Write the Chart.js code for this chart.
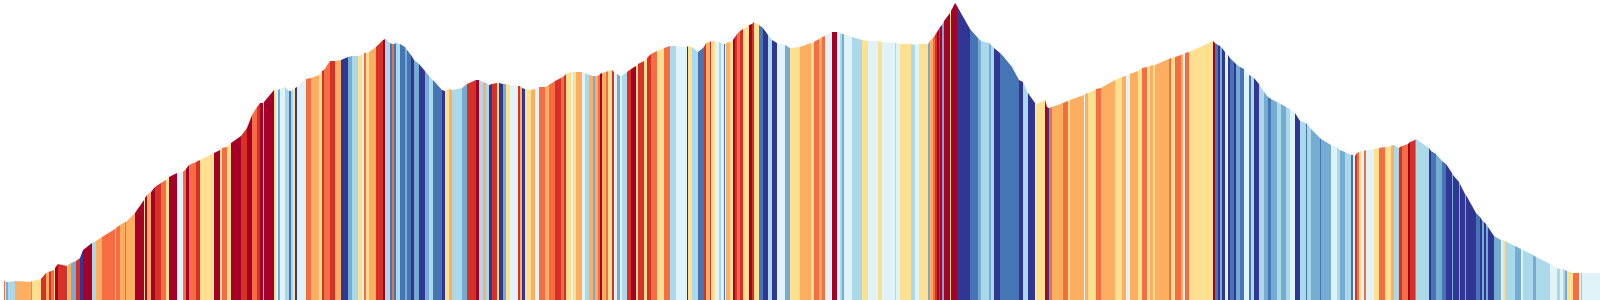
<!DOCTYPE html>
<html>
<head>
<meta charset="utf-8">
<script src="https://cdn.jsdelivr.net/npm/chart.js@4.4.0/dist/chart.umd.min.js"></script>
<style>
  body { margin: 0; background: #fff; }
  .graph-container { width: 1600px; height: 300px; position: relative; }
</style>
</head>
<body>
<div class="graph-container"><canvas id="profile"></canvas></div>
<script>
// stripe colours (RdYlBu, warm = climbing, cool = descending)
const palette = ['#a50026', '#d73027', '#f46d43', '#fdae61', '#fee090',
                 '#e0f3f8', '#abd9e9', '#74add1', '#4575b4', '#313695'];

// distance along the route at each stripe edge
const distance = [
  4,5,6,8,15,31,32,41,46,49,51,54,55,58,67,68,71,76,80,83,92,96,102,115,116,120,125,126,135,144,145,147,151,155,161,166,169,177,183,186,189,196,
  200,214,220,222,227,231,241,247,252,257,260,263,264,274,276,278,280,285,289,291,293,295,297,306,311,319,322,324,330,335,341,348,352,358,362,364,366,369,376,383,385,390,392,394,396,
  400,405,407,411,414,419,425,429,433,442,445,449,452,462,467,476,479,483,486,489,492,497,499,503,506,510,518,520,522,525,531,535,539,545,549,555,561,564,566,571,573,576,582,585,589,593,595,598,
  600,602,606,608,612,614,617,620,622,627,631,636,638,644,647,651,657,664,670,676,687,688,692,698,704,706,710,711,715,719,721,724,725,726,730,733,735,737,740,743,749,752,754,759,763,768,772,777,785,790,
  800,811,814,819,822,825,832,837,840,842,844,852,862,868,878,882,895,896,900,911,915,919,928,930,933,935,937,939,940,942,944,950,951,955,957,970,978,981,989,991,994,
  1000,1003,1012,1019,1023,1028,1035,1036,1045,1047,1049,1052,1063,1068,1070,1084,1085,1088,1096,1101,1115,1122,1126,1130,1138,1142,1147,1150,1153,1155,1169,1171,1175,1181,1183,1185,1189,
  1200,1213,1215,1218,1220,1222,1225,1228,1230,1234,1236,1240,1244,1249,1251,1254,1259,1264,1268,1271,1277,1281,1286,1290,1295,1300,1306,1307,1311,1320,1321,1331,1337,1340,1345,1351,1353,1355,1357,1359,1361,1364,1366,1374,1379,1385,1391,1394,1399,
  1400,1402,1408,1410,1415,1416,1429,1431,1436,1442,1446,1452,1453,1459,1460,1465,1466,1476,1480,1482,1484,1486,1488,1494,1501,1503,1505,1515,1521,1523,1533,1536,1550,1557,1560,1563,1565,1567,1573,1579,1581,1582,1600
];

// elevation at each stripe edge
const elevation = [
  19,19,18,18,19,18,19,21,27,28,29,30,32,36,34,35,37,39,42,50,57,59,63,71,72,75,78,78,87,100,102,105,108,113,117,120,123,127,128,131,135,138,
  140,147,150,152,153,157,164,172,185,193,197,197,198,210,211,210,211,213,209,209,210,212,213,221,222,225,229,230,239,239,240,243,244,244,245,247,247,248,253,260,261,257,256,256,257,
  256,253,250,245,240,236,229,224,220,210,209,211,210,212,216,220,220,218,217,215,216,217,217,216,216,215,214,214,212,211,210,211,213,213,215,219,222,224,226,228,228,228,228,227,225,224,224,224,
  226,227,228,229,230,228,226,224,224,228,231,234,236,239,242,246,249,252,254,254,253,254,253,248,253,257,258,259,259,258,257,256,256,257,258,260,263,266,269,271,275,276,278,275,272,265,260,257,255,252,
  253,257,258,261,263,264,268,268,267,266,266,263,260,259,259,258,257,257,256,256,255,256,256,259,262,265,268,271,273,275,279,287,289,297,294,271,262,259,257,255,252,
  247,244,233,220,218,207,197,195,200,193,192,193,197,199,200,205,206,207,211,212,220,223,224,226,229,232,233,234,235,235,241,242,243,245,246,247,248,
  253,259,257,255,254,252,248,245,242,238,236,233,231,225,224,222,216,208,203,201,198,196,193,191,187,179,177,176,171,162,161,155,153,150,148,145,145,144,147,148,149,149,150,151,152,153,154,155,152,
  153,154,156,158,160,161,152,149,146,139,136,127,125,118,116,106,105,87,83,80,78,76,73,64,60,60,59,54,51,50,45,43,36,32,31,31,30,29,27,27,27,27,27
];

// colour band of each stripe (index into palette), one per gap between edges
const band = [
  2,5,7,6,3,7,4,1,3,1,2,4,0,1,4,3,7,1,9,0,6,3,2,3,2,3,2,3,0,4,0,3,0,1,2,4,0,5,2,0,2,1,
  4,0,4,2,4,0,1,0,2,1,0,6,0,4,5,7,5,6,8,6,4,9,5,2,3,4,1,2,1,3,9,7,6,4,5,2,4,3,1,0,6,8,2,8,6,
  8,7,8,9,7,9,7,6,8,9,4,3,6,7,1,0,6,3,6,9,1,4,9,7,4,5,1,3,9,4,3,5,2,3,2,1,2,1,4,5,4,3,5,6,3,7,3,2,
  0,3,2,4,1,5,7,5,6,1,0,4,1,4,1,2,4,2,6,5,0,4,6,8,1,3,1,4,5,6,5,8,5,3,4,0,1,2,1,4,0,1,4,8,9,6,9,5,7,4,
  3,4,2,3,2,5,0,5,6,7,5,6,4,5,4,5,6,5,4,6,5,4,7,3,2,1,0,1,0,7,0,4,0,0,9,8,7,6,7,6,9,
  8,8,8,9,6,9,5,4,0,9,2,3,2,4,3,5,3,4,2,3,4,3,5,3,4,2,4,3,4,3,2,4,2,3,5,2,4,
  4,0,8,9,7,9,5,9,8,9,7,8,5,8,6,9,6,7,8,7,6,7,6,5,9,6,8,6,7,8,7,5,6,7,6,8,5,1,2,4,5,2,5,4,2,4,3,6,1,
  1,2,0,1,2,6,9,8,7,8,9,7,9,7,9,7,9,8,9,7,9,7,9,7,5,4,6,7,5,6,7,6,5,6,5,6,7,4,2,5,3,5
];

const points = distance.map((d, i) => ({ x: d, y: elevation[i] }));

new Chart(document.getElementById('profile'), {
  type: 'line',
  data: {
    datasets: [{
      data: points,
      fill: 'origin',
      borderWidth: 0,
      borderColor: 'rgba(0,0,0,0)',
      backgroundColor: palette[5],
      pointRadius: 0,
      tension: 0,
      segment: {
        backgroundColor: ctx => palette[band[ctx.p0DataIndex]] || palette[5]
      }
    }]
  },
  options: {
    responsive: true,
    maintainAspectRatio: false,
    animation: false,
    layout: { padding: 0 },
    plugins: { legend: { display: false }, tooltip: { enabled: false } },
    scales: {
      x: { type: 'linear', min: 0, max: 1600, display: false },
      y: { min: 0, max: 300, display: false }
    }
  }
});
</script>
</body>
</html>
